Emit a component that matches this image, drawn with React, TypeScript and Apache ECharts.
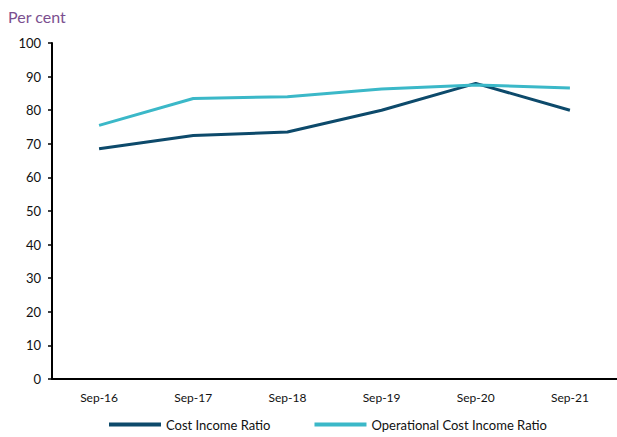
import React, { useEffect, useRef } from "react";
import * as echarts from "echarts";

const categories = ["Sep-16", "Sep-17", "Sep-18", "Sep-19", "Sep-20", "Sep-21"];
const costIncome = [68.5, 72.5, 73.5, 80, 88, 80];
const operationalCostIncome = [75.5, 83.5, 84, 86.3, 87.5, 86.6];
const yTicks = { min: 0, max: 100, interval: 10 };

export default function App() {
  const ref = useRef<HTMLDivElement>(null);
  useEffect(() => {
    if (!ref.current) return;
    const chart = echarts.init(ref.current, undefined, { renderer: "svg" });
    chart.setOption({
      animation: false,
      textStyle: { fontFamily: "Lato" },
      title: {
        text: "Per cent",
        left: 3,
        top: 3,
        textStyle: { color: "#7b4f8f", fontSize: 16, fontWeight: "normal", fontFamily: "Lato" },
      },
      legend: {
        bottom: 1,
        left: 104,
        itemWidth: 52,
        itemHeight: 4,
        itemGap: 44,
        icon: "rect",
        textStyle: { color: "#111", fontSize: 13, fontFamily: "Lato" },
        data: ["Cost Income Ratio", "Operational Cost Income Ratio"],
      },
      grid: { left: 52, right: -7, top: 43, bottom: 58, containLabel: false },
      xAxis: {
        type: "category",
        data: categories,
        boundaryGap: true,
        axisLine: { lineStyle: { color: "#000", width: 2 } },
        axisTick: { show: false },
        axisLabel: { color: "#111", fontSize: 12, margin: 12 },
      },
      yAxis: {
        type: "value",
        min: yTicks.min,
        max: yTicks.max,
        interval: yTicks.interval,
        axisLine: { show: true, lineStyle: { color: "#000", width: 2 } },
        axisTick: { show: true, length: 4, lineStyle: { color: "#000", width: 1.5 } },
        axisLabel: { color: "#111", fontSize: 13, margin: 11 },
        splitLine: { show: false },
      },
      series: [
        {
          name: "Cost Income Ratio",
          type: "line",
          data: costIncome,
          symbol: "none",
          lineStyle: { color: "#0d4a6b", width: 3 },
          itemStyle: { color: "#0d4a6b" },
        },
        {
          name: "Operational Cost Income Ratio",
          type: "line",
          data: operationalCostIncome,
          symbol: "none",
          lineStyle: { color: "#3bb8c8", width: 3 },
          itemStyle: { color: "#3bb8c8" },
        },
      ],
    });
    return () => chart.dispose();
  }, []);
  return <div ref={ref} style={{ width: 617, height: 437, position: "absolute", left: 0, top: 0 }} />;
}
